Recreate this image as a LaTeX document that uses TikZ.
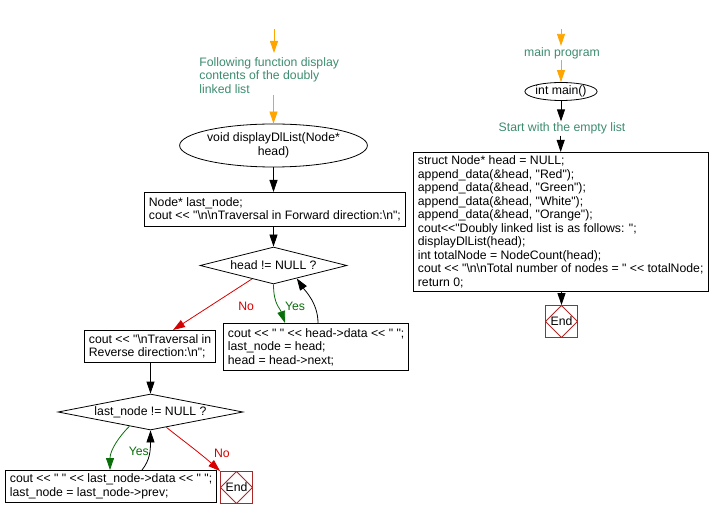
\documentclass[tikz,border=0pt]{standalone}
\usepackage{fontspec}
\newfontfamily\chartfont{Liberation Sans}
\usetikzlibrary{arrows.meta,shapes.geometric}

\definecolor{notecolor}{RGB}{60,140,110}
\definecolor{startorange}{RGB}{255,165,0}
\definecolor{yesgreen}{RGB}{10,110,10}
\definecolor{nored}{RGB}{215,0,0}
\definecolor{endred}{RGB}{170,40,40}
\newcommand{\bsl}{\textbackslash}

\begin{document}
\begin{tikzpicture}[x=1pt,y=-1pt,line width=0.8pt,font=\chartfont\fontsize{12.25}{13.5}\selectfont]
	\tikzstyle{box} = [draw, rectangle, align=left, inner xsep=4.5pt, inner ysep=2pt, anchor=north west]
	\tikzstyle{decision} = [draw, diamond, aspect=5, inner sep=0pt]
	\tikzstyle{terminal} = [draw, ellipse, align=center, inner sep=0pt]
	\tikzstyle{note} = [text=notecolor, align=left, inner sep=1pt]
	\tikzstyle{end box} = [draw=endred, rectangle, minimum size=32pt, inner sep=0pt,
		path picture={\draw[endred] (path picture bounding box.north) -- (path picture bounding box.east)
			-- (path picture bounding box.south) -- (path picture bounding box.west) -- cycle;}]
	\tikzstyle{flow} = [draw, -{Triangle[length=12pt,width=8pt]}]
	\tikzstyle{start flow} = [flow, startorange]
	\tikzstyle{yes flow} = [flow, yesgreen]
	\tikzstyle{no flow} = [flow, nored]

	\useasboundingbox (0,0) rectangle (711,518);

	% displayDlList
	\coordinate (in1) at (274,29);
	\node[note, anchor=north west] (note1) at (198,56) {Following function display\\contents of the doubly\\linked list};
	\node[terminal, minimum width=160pt, minimum height=43pt] (fn) at (273.5,145.5) {void displayDlList(Node*\\head)};
	\node[box, minimum height=34pt] (b1) at (144,192) {Node* last\_node;\\cout << "\bsl n\bsl nTraversal in Forward direction:\bsl n";};
	\node[decision, minimum width=147pt, minimum height=37pt] (d1) at (273.5,265.5) {head != NULL ?};
	\node[box, minimum height=47pt] (b3) at (223,323) {cout << " " << head->data << " ";\\last\_node = head;\\head = head->next;};
	\node[box, minimum height=32pt] (b2) at (84,330) {cout << "\bsl nTraversal in\\Reverse direction:\bsl n";};
	\node[decision, minimum width=185pt, minimum height=36pt] (d2) at (150.5,412) {last\_node != NULL ?};
	\node[box, minimum height=32pt] (b4) at (5,470) {cout << " " << last\_node->data << " ";\\last\_node = last\_node->prev;};
	\node[end box] (end1) at (236.5,487.5) {End};

	\draw[start flow] (in1) -- ([yshift=3pt]in1 |- note1.north);
	\draw[start flow] (note1.south -| fn.north) -- (fn.north);
	\draw[flow] (fn.south) -- (fn.south |- b1.north);
	\draw[flow] (b1.south -| d1.north) -- (d1.north);
	\draw[no flow] (d1.212) -- node[pos=0.5, right=22pt, yshift=-2pt, text=nored] {No} ([xshift=89pt]b2.north west);
	\draw[yes flow] (d1.south) .. controls +(0,20) and +(-5,-15) .. node[pos=0.5, right=4pt, yshift=-1pt, text=yesgreen] {Yes} ([xshift=62pt]b3.north west);
	\draw[flow] ([xshift=95pt]b3.north west) .. controls +(0,-20) and +(8,12) .. (d1.331);
	\draw[flow] (b2.south -| d2.north) -- (d2.north);
	\draw[yes flow] (d2.214) .. controls +(-10,10) and +(0,-20) .. node[pos=0.65, right=12pt, text=yesgreen] {Yes} ([xshift=105pt]b4.north west);
	\draw[flow] ([xshift=137pt]b4.north west) .. controls +(8,-10) and +(0,20) .. (d2.south);
	\draw[no flow] (d2.316) .. controls +(15,12) and +(-20,-18) .. node[pos=0.5, right=19pt, yshift=-6pt, text=nored] {No} (end1.north west);

	% main program
	\coordinate (in2) at (561,29);
	\node[note, align=center] (note2) at (562,53) {main program};
	\node[terminal, minimum width=68pt, minimum height=18pt] (main) at (561,91.5) {int main()};
	\node[note, align=center] (note3) at (562,128.5) {Start with the empty list};
	\node[box, minimum height=139pt] (b5) at (413,152) {struct Node* head = NULL;\\append\_data(\&head, "Red");\\append\_data(\&head, "Green");\\append\_data(\&head, "White");\\append\_data(\&head, "Orange");\\cout<<"Doubly linked list is as follows: ";\\displayDlList(head);\\int totalNode = NodeCount(head);\\cout << "\bsl n\bsl nTotal number of nodes = " << totalNode;\\return 0;};
	\node[end box] (end2) at (561.5,321.5) {End};

	\draw[start flow] (in2) -- (in2 |- note2.north);
	\draw[start flow] (note2.south -| main.north) -- (main.north);
	\draw[flow] (main.south) -- (main.south |- note3.north);
	\draw[flow] (note3.south -| b5.north) -- (b5.north);
	\draw[flow] (b5.south -| end2.north) -- (end2.north);
\end{tikzpicture}
\end{document}
